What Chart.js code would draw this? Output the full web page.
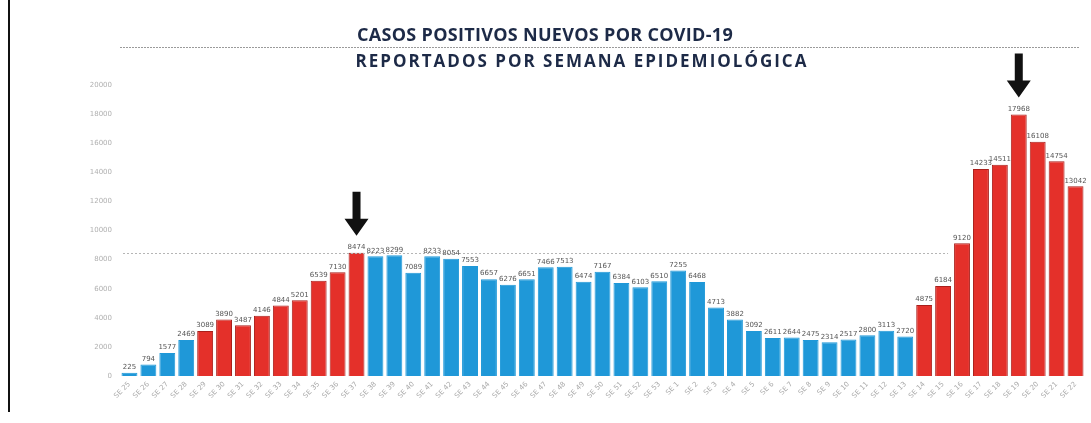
<!DOCTYPE html>
<html><head><meta charset="utf-8">
<script src="https://cdn.jsdelivr.net/npm/chart.js@4/dist/chart.umd.min.js"></script>
<style>
html,body{margin:0;padding:0;background:#fff}
#wrap{position:relative;width:1091px;height:423px;overflow:hidden}
#edge{position:absolute;left:8px;top:0;width:2px;height:412px;background:#111}
canvas{position:absolute;left:0;top:0}
</style>
</head><body>
<div id="wrap"><div id="edge"></div><canvas id="c" width="1091" height="423"></canvas></div>
<script>
const titleText = 'CASOS POSITIVOS NUEVOS POR COVID-19';
const subtitleText = 'REPORTADOS POR SEMANA EPIDEMIOLÓGICA';
const weeks = ['SE 25','SE 26','SE 27','SE 28','SE 29','SE 30','SE 31','SE 32','SE 33','SE 34','SE 35','SE 36','SE 37',
  'SE 38','SE 39','SE 40','SE 41','SE 42','SE 43','SE 44','SE 45','SE 46','SE 47','SE 48','SE 49','SE 50','SE 51','SE 52','SE 53',
  'SE 1','SE 2','SE 3','SE 4','SE 5','SE 6','SE 7','SE 8','SE 9','SE 10','SE 11','SE 12','SE 13',
  'SE 14','SE 15','SE 16','SE 17','SE 18','SE 19','SE 20','SE 21','SE 22'];
const cases = [225,794,1577,2469,3089,3890,3487,4146,4844,5201,6539,7130,8474,
  8223,8299,7089,8233,8054,7553,6657,6276,6651,7466,7513,6474,7167,6384,6103,6510,
  7255,6468,4713,3882,3092,2611,2644,2475,2314,2517,2800,3113,2720,
  4875,6184,9120,14233,14511,17968,16108,14754,13042];
const wave = [0,0,0,0,1,1,1,1,1,1,1,1,1,
  0,0,0,0,0,0,0,0,0,0,0,0,0,0,0,0,
  0,0,0,0,0,0,0,0,0,0,0,0,0,
  1,1,1,1,1,1,1,1,1];
const yTicks = [0,2000,4000,6000,8000,10000,12000,14000,16000,18000,20000];
const arrowWeeks = ['SE 37','SE 19'];
const refLevel = 8474;

const BLUE = '#1f98d8', RED = '#e4302a', RED_EDGE = '#a91f1b';

const decor = {
  id: 'decor',
  afterDatasetsDraw(chart) {
    const ctx = chart.ctx, x = chart.scales.x, y = chart.scales.y, ca = chart.chartArea;
    const meta = chart.getDatasetMeta(0);
    const hasLS = ctx.letterSpacing !== undefined;
    ctx.save();
    // titles
    ctx.fillStyle = '#1d2a47';
    ctx.textAlign = 'center'; ctx.textBaseline = 'middle';
    ctx.font = 'bold 18px "Open Sans", Lato, sans-serif';
    if (hasLS) ctx.letterSpacing = '0.3px';
    ctx.fillText(titleText, 545, 36);
    ctx.font = 'bold 17px "Open Sans", Lato, sans-serif';
    if (hasLS) ctx.letterSpacing = '2px';
    ctx.fillText(subtitleText, 582, 62);
    if (hasLS) ctx.letterSpacing = '0px';
    // separator line under title
    ctx.strokeStyle = '#9a9a9a'; ctx.lineWidth = 1; ctx.setLineDash([2,1]);
    ctx.beginPath(); ctx.moveTo(120, 47.5); ctx.lineTo(1080, 47.5); ctx.stroke();
    // reference dotted line at first peak level
    let endIdx = cases.findIndex((v, i) => i > cases.indexOf(refLevel) && v > refLevel);
    const endX = meta.data[endIdx].x - meta.data[endIdx].width / 2 - 6;
    const ry = Math.round(y.getPixelForValue(refLevel)) + 0.5;
    ctx.strokeStyle = '#b5b5b5'; ctx.setLineDash([2,2]);
    ctx.beginPath(); ctx.moveTo(ca.left + 3, ry); ctx.lineTo(endX, ry); ctx.stroke();
    ctx.setLineDash([]);
    // value labels
    ctx.fillStyle = '#555'; ctx.font = '7px "DejaVu Sans", sans-serif';
    ctx.textBaseline = 'bottom';
    meta.data.forEach((b, i) => { ctx.fillText(String(cases[i]), b.x, b.y - 2); });
    // arrows
    ctx.fillStyle = '#111';
    arrowWeeks.forEach(w => {
      const i = weeks.indexOf(w); const b = meta.data[i];
      const tip = b.y - 17, top = tip - 44, headH = 17, sw = 4, hw = 12;
      ctx.beginPath();
      ctx.moveTo(b.x - sw, top); ctx.lineTo(b.x + sw, top);
      ctx.lineTo(b.x + sw, tip - headH); ctx.lineTo(b.x + hw, tip - headH);
      ctx.lineTo(b.x, tip); ctx.lineTo(b.x - hw, tip - headH);
      ctx.lineTo(b.x - sw, tip - headH); ctx.closePath(); ctx.fill();
    });
    ctx.restore();
  }
};

new Chart(document.getElementById('c'), {
  type: 'bar',
  data: {
    labels: weeks,
    datasets: [{
      data: cases,
      backgroundColor: wave.map(w => w ? RED : BLUE),
      borderColor: wave.map(w => w ? RED_EDGE : BLUE),
      borderWidth: 1,
      barPercentage: 0.84,
      categoryPercentage: 1.0
    }]
  },
  options: {
    responsive: false,
    animation: false,
    devicePixelRatio: 1,
    layout: { padding: { top: 85, right: 6, left: 0, bottom: 0 } },
    plugins: { legend: { display: false }, tooltip: { enabled: false }, title: { display: false } },
    scales: {
      x: {
        grid: { display: false, drawTicks: false },
        border: { display: false },
        ticks: { color: '#aaa', font: { size: 7, family: '"DejaVu Sans", sans-serif' }, maxRotation: 45, minRotation: 45, autoSkip: false, padding: 4 },
        afterFit(s) { s.height = 47; }
      },
      y: {
        min: 0, max: 20000,
        afterBuildTicks(s) { s.ticks = yTicks.map(v => ({ value: v })); },
        grid: { display: false, drawTicks: false },
        border: { display: false },
        ticks: { color: '#b0b0b0', font: { size: 7, family: '"DejaVu Sans", sans-serif' }, padding: 8, callback: v => String(v) },
        afterFit(s) { s.width = 120; }
      }
    }
  },
  plugins: [decor]
});
</script>
</body></html>
